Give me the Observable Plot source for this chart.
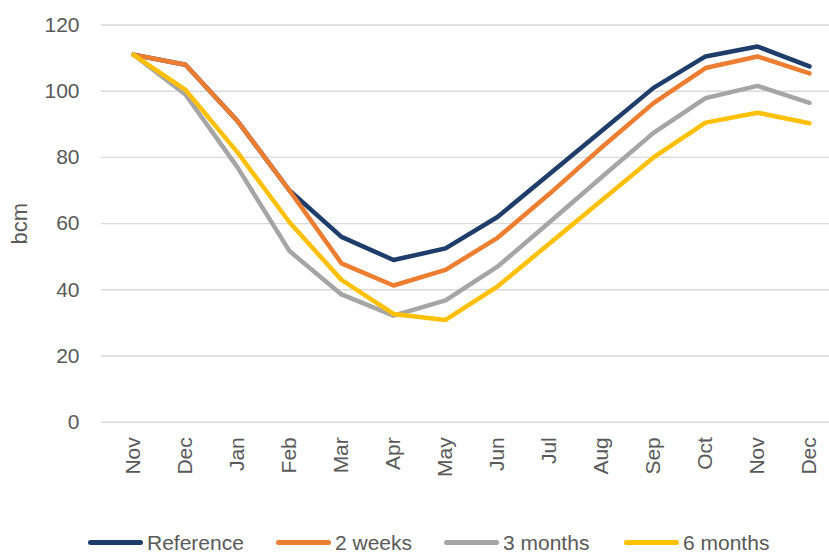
<!DOCTYPE html>
<html>
<head>
<meta charset="utf-8">
<script src="https://cdn.jsdelivr.net/npm/d3@7"></script>
<script src="https://cdn.jsdelivr.net/npm/@observablehq/plot@0.6"></script>
<style>
  html, body { margin: 0; padding: 0; background: #fff; overflow: hidden; }
  #chart svg { display: block; }
  .legend { position: relative; height: 27px; font-family: "Liberation Sans", Arial, sans-serif; font-size: 21px; line-height: 21px; color: #595959; }
  .legend .item { position: absolute; top: 5px; height: 21px; display: flex; align-items: center; }
  .legend .sw { width: 55px; height: 5px; border-radius: 3px; margin-right: 4px; }
</style>
</head>
<body>
<div id="chart"></div>
<div class="legend" id="legend"></div>
<script>
const monthLabels = ["Nov","Dec","Jan","Feb","Mar","Apr","May","Jun","Jul","Aug","Sep","Oct","Nov","Dec"];
const seriesNames = ["Reference","2 weeks","3 months","6 months"];
const seriesColors = ["#1F3D6B","#ED7D31","#A5A5A5","#FFC000"];
const reference   = [111,108,91,70,56,49,52.5,62,75,88,101,110.5,113.5,107.5];
const twoWeeks    = [111,108,91,70,48,41.3,46,55.7,69,83,96.4,107,110.5,105.4];
const threeMonths = [111,99,77,51.7,38.6,32.2,36.8,47,60.4,74,87.4,97.9,101.6,96.5];
const sixMonths   = [111,100.4,81.5,60.4,43,32.7,30.9,41,54,67,80,90.5,93.5,90.3];
const yTicks = [0,20,40,60,80,100,120];

const allSeries = [reference, twoWeeks, threeMonths, sixMonths];
const rows = [];
allSeries.forEach((vals, s) => vals.forEach((v, i) => rows.push({i, v, s: seriesNames[s]})));

const chart = Plot.plot({
  width: 829,
  height: 527,
  marginLeft: 101,
  marginRight: 0,
  marginTop: 24.5,
  marginBottom: 105.3,
  style: {fontFamily: "'Liberation Sans', Arial, sans-serif", color: "#595959", background: "#fff"},
  x: {type: "point", domain: d3.range(monthLabels.length), range: [127.7, 814.3], padding: 0},
  y: {domain: [0, 120]},
  color: {domain: seriesNames, range: seriesColors},
  marks: [
    Plot.ruleY(yTicks, {stroke: "#D9D9D9", strokeWidth: 1.4}),
    Plot.axisY({ticks: yTicks, tickSize: 0, tickPadding: 22, fontSize: 21, label: null}),
    Plot.axisX({tickRotate: -90, tickSize: 0, tickPadding: 15, fontSize: 21, label: null, tickFormat: i => monthLabels[i]}),
    Plot.text(["bcm"], {frameAnchor: "left", dx: -82, rotate: -90, fontSize: 22, fill: "#595959", textAnchor: "middle"}),
    Plot.line(rows, {x: "i", y: "v", z: "s", stroke: "s", strokeWidth: 4.5, strokeLinejoin: "round", strokeLinecap: "round"})
  ]
});
document.getElementById("chart").appendChild(chart);

const legend = document.getElementById("legend");
const lefts = [88, 276, 444, 624];
seriesNames.forEach((name, k) => {
  const item = document.createElement("div");
  item.className = "item";
  item.style.left = lefts[k] + "px";
  const sw = document.createElement("span");
  sw.className = "sw";
  sw.style.background = seriesColors[k];
  const t = document.createElement("span");
  t.textContent = name;
  item.appendChild(sw);
  item.appendChild(t);
  legend.appendChild(item);
});
</script>
</body>
</html>
